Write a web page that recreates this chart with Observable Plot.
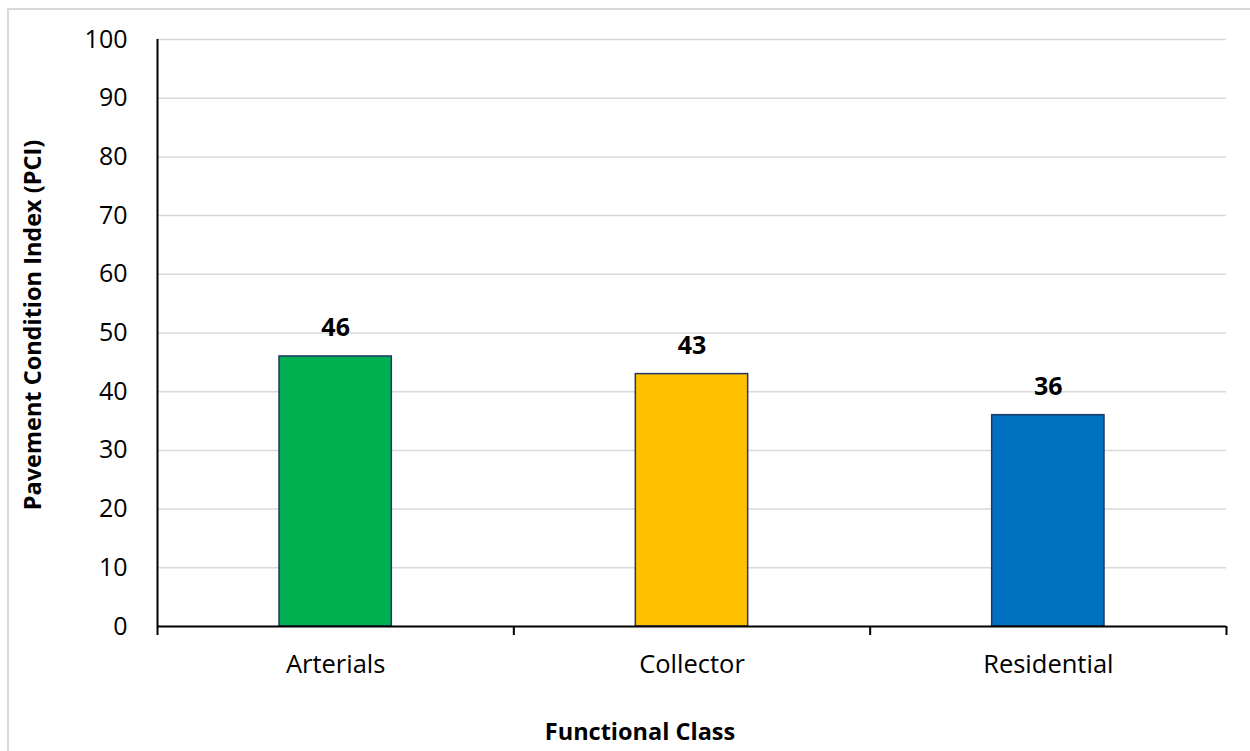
<!DOCTYPE html>
<html>
<head>
<meta charset="utf-8">
<script src="https://cdn.jsdelivr.net/npm/d3@7"></script>
<script src="https://cdn.jsdelivr.net/npm/@observablehq/plot@0.6"></script>
<style>
  html, body { margin: 0; padding: 0; background: #fff; }
  #wrap { position: relative; width: 1250px; height: 751px; overflow: hidden; font-family: "Open Sans", sans-serif; }
  #border { position: absolute; left: 7px; top: 8px; width: 1260px; height: 760px; border: 2px solid #d9d9d9; box-sizing: border-box; }
  #chart { position: absolute; left: 0; top: 0; }
  #xtitle { position: absolute; left: 640px; top: 732px; transform: translate(-50%, -50%); font-weight: bold; font-size: 23.5px; line-height: 1; white-space: nowrap; color: #000; }
  #ytitle { position: absolute; left: 33px; top: 325px; transform: translate(-50%, -50%) rotate(-90deg); font-weight: bold; font-size: 23.5px; line-height: 1; white-space: nowrap; color: #000; }
</style>
</head>
<body>
<div id="wrap">
  <div id="border"></div>
  <div id="chart"></div>
  <div id="xtitle">Functional Class</div>
  <div id="ytitle">Pavement Condition Index (PCI)</div>
</div>
<script>
const categories = ["Arterials", "Collector", "Residential"];
const values = [46, 43, 36];
const colors = ["#00B050", "#FFC000", "#0070C0"];
const yTicks = [0, 10, 20, 30, 40, 50, 60, 70, 80, 90, 100];

const data = categories.map((c, i) => ({category: c, value: values[i], color: colors[i], x1: i, x2: i + 1, xc: i + 0.5}));
const boundaries = d3.range(0, categories.length + 1);
const centers = categories.map((c, i) => i + 0.5);

const chart = Plot.plot({
  width: 1250,
  height: 751,
  marginLeft: 157,
  marginRight: 24,
  marginTop: 39,
  marginBottom: 125,
  style: {fontFamily: "'Open Sans', sans-serif", fontSize: "25px", background: "transparent", color: "#000"},
  x: {type: "linear", domain: [0, categories.length]},
  y: {domain: [0, 100]},
  marks: [
    Plot.ruleY(yTicks.filter(t => t > 0), {stroke: "#d9d9d9", strokeWidth: 1.5}),
    Plot.rectY(data, {x1: "x1", x2: "x2", y: "value", fill: "color", stroke: "#1F3864", strokeWidth: 1.5, insetLeft: 122, insetRight: 122}),
    Plot.axisY({ticks: yTicks, tickSize: 0, tickPadding: 30, label: null, fontSize: 25}),
    Plot.axisX({ticks: boundaries, tickSize: 9, tickFormat: () => "", strokeWidth: 2, label: null}),
    Plot.axisX({ticks: centers, tickSize: 0, tickPadding: 28, tickFormat: (d) => categories[Math.floor(d)], label: null, fontSize: 25.5}),
    Plot.ruleY([0], {stroke: "#000", strokeWidth: 2}),
    Plot.ruleX([0], {y1: 0, y2: 100, stroke: "#000", strokeWidth: 2}),
    Plot.text(data, {x: "xc", y: "value", text: d => String(d.value), dy: -28, fontWeight: "bold", fontSize: 25, fill: "#000"})
  ]
});
document.getElementById("chart").appendChild(chart);
</script>
</body>
</html>
